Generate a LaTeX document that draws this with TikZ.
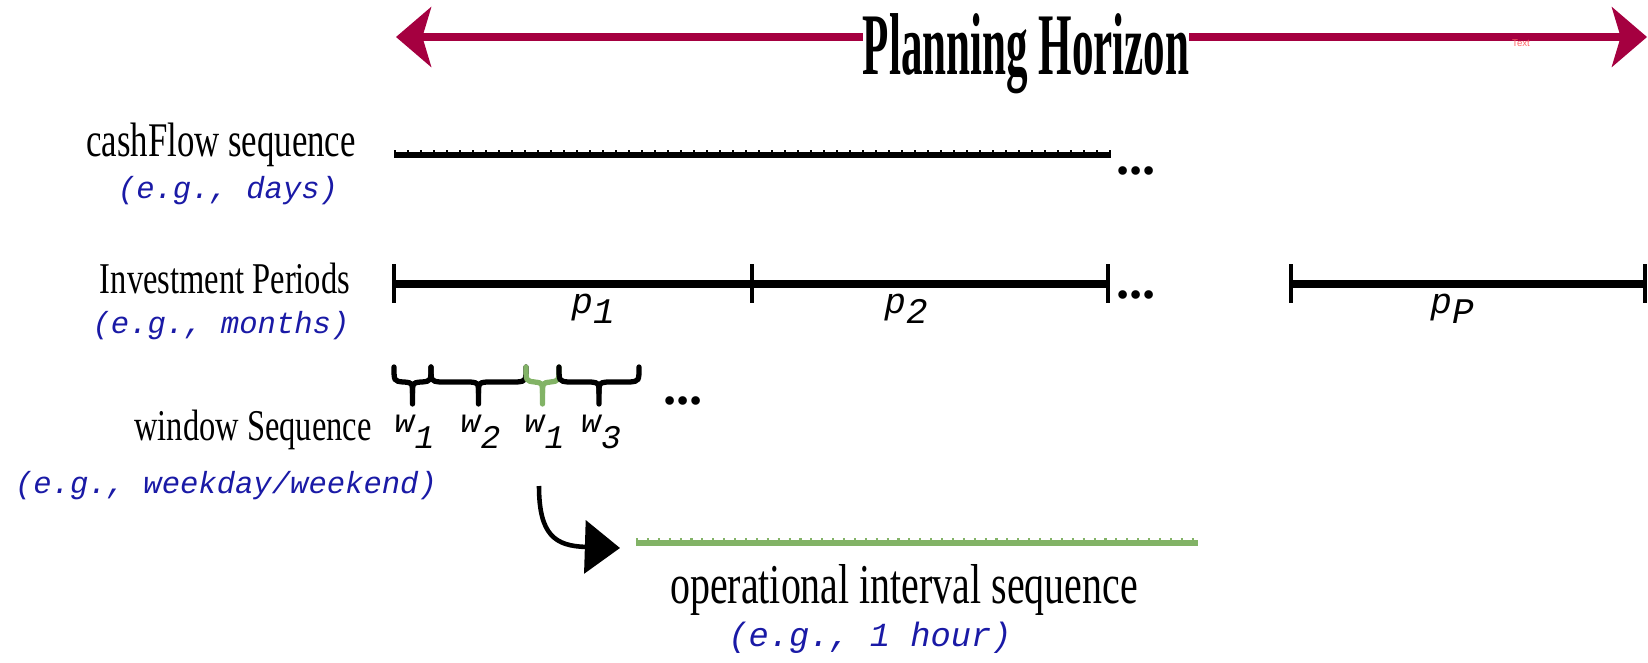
\documentclass[tikz,border=0pt]{standalone}
\usepackage{fontspec}
\setmainfont{Liberation Serif}
\newfontfamily\titlefont[FakeStretch=0.49]{Liberation Serif}
\newfontfamily\lblfont[FakeStretch=0.74]{Liberation Serif}
\newfontfamily\cflblfont[FakeStretch=0.72]{Liberation Serif}
\newfontfamily\oplblfont[FakeStretch=0.71]{Liberation Serif}
\newfontfamily\monofont{Liberation Mono}
\newfontfamily\tinyfont{Liberation Sans}
\usetikzlibrary{positioning, arrows.meta, calc}
\usepackage{xcolor}
\definecolor{hzred}{HTML}{A50040}
\definecolor{wgreen}{HTML}{82B366}
\definecolor{exblue}{RGB}{26,26,166}
\definecolor{txtred}{HTML}{FF6666}
\newcommand{\wsub}[1]{\raisebox{-0.5em}{#1}}
\newcommand{\psub}[1]{\raisebox{-0.3em}{#1}}

\begin{document}
\begin{tikzpicture}[
    x=0.02cm, y=-0.02cm,
    >=Stealth,
    hztitle/.style={fill=white, inner sep=0pt, anchor=base,
                    font=\titlefont\bfseries\fontsize{50}{50}\selectfont},
    hzarrow/.style={draw=hzred, line width=4pt,
                    {Stealth[length=20pt, width=34pt, inset=5pt]}-{Stealth[length=20pt, width=34pt, inset=5pt]}},
    seqlbl/.style={inner sep=0pt, anchor=base,
                   font=\lblfont\fontsize{25}{25}\selectfont},
    oplbl/.style={inner sep=0pt, anchor=base,
                  font=\oplblfont\fontsize{32}{32}\selectfont},
    exlbl/.style={inner sep=0pt, anchor=base, text=exblue,
                  font=\monofont\itshape\fontsize{17.4}{17.4}\selectfont},
    idx/.style={inner sep=0pt, anchor=base,
                font=\monofont\itshape\fontsize{18.8}{18.8}\selectfont},
    pidx/.style={idx, font=\monofont\itshape\fontsize{20.5}{20.5}\selectfont},
    more/.style={inner sep=0pt, anchor=base,
                 font=\bfseries\fontsize{30}{30}\selectfont},
    tlbar/.style={line width=4pt},
    tmark/.style={line width=2.3pt},
    combbar/.style={line width=3.6pt},
    combtick/.style={line width=1.6pt, dash pattern=on 1.2pt off 6.2pt},
    brc/.style={line width=3pt, line cap=round},
]
\useasboundingbox (0,0) rectangle (1648,662);

% planning horizon
\coordinate (hzl) at (396,37);
\coordinate (hzr) at (1647,37);
\draw[hzarrow] (hzl) -- (hzr);
\node[hztitle] (title) at (1026,75) {Planning Horizon};
\node[inner sep=0pt, text=txtred, font=\tinyfont\fontsize{5.5}{5.5}\selectfont] (stray) at (1521,43) {Text};

% cashflow sequence
\node[seqlbl, font=\cflblfont\fontsize{27.5}{27.5}\selectfont] (cflbl) at (221,157) {cashFlow sequence};
\node[exlbl] (cfex) at (228,198) {(e.g., days)};
\coordinate (cfa) at (394,155);
\coordinate (cfb) at (1111,155);
\draw[combbar] (cfa) -- (cfb);
\draw[combtick] ($(cfa)+(0,-4)$) -- ($(cfb)+(0,-4)$);
\node[more] (cfmore) at (1136,174) {...};

% investment periods
\node[seqlbl] (iplbl) at (225,293) {Investment Periods};
\node[exlbl] (ipex) at (221,333) {(e.g., months)};
\coordinate (ip0) at (394,284);
\coordinate (ip1) at (752,284);
\coordinate (ip2) at (1108,284);
\coordinate (ipa) at (1291,284);
\coordinate (ipb) at (1645,284);
\draw[tlbar] (ip0) -- (ip2);
\draw[tlbar] (ipa) -- (ipb);
\foreach \c in {ip0, ip1, ip2, ipa, ipb}
    \draw[tmark] ($(\c)+(0,-20)$) -- ($(\c)+(0,19)$);
\node[more] (ipmore) at (1136,298) {...};
\node[pidx] (p1) at (593,313) {p\psub{1}};
\node[pidx] (p2) at (906,313) {p\psub{2}};
\node[pidx] (pP) at (1452,313) {p\psub{P}};

% window sequence
\node[seqlbl] (wslbl) at (253,440) {window Sequence};
\node[exlbl] (wsex) at (226,493) {(e.g., weekday/weekend)};
\foreach \xa/\xb/\cl/\k/\nm in {394/431/black/1/w1, 431/526/black/2/w2,
                               526/559/wgreen/1/w1b, 559/639/black/3/w3} {
    \pgfmathsetmacro{\xm}{(\xa+\xb)/2}
    \draw[brc, \cl] (\xa,367) .. controls (\xa,381) .. (\xa+9,382)
        -- (\xm-8,382) .. controls (\xm,383) .. (\xm,393) -- (\xm,404);
    \draw[brc, \cl] (\xb,367) .. controls (\xb,381) .. (\xb-9,382)
        -- (\xm+8,382) .. controls (\xm,383) .. (\xm,393);
    \node[idx] (\nm) at (\xm+2,432) {w\wsub{\k}};
}
\node[more] (wsmore) at (683,404) {...};

% operational intervals
\coordinate (arrs) at (539,486);
\coordinate (arre) at (620,548);
\draw[line width=2.6pt, -{Triangle[length=20pt, width=30pt]}] (arrs) .. controls (539,535) and (555,546) .. (arre);
\coordinate (opa) at (636,543);
\coordinate (opb) at (1198,543);
\draw[combbar, wgreen] (opa) -- (opb);
\draw[combtick, wgreen, dash pattern=on 1.2pt off 5pt] ($(opa)+(0,-4)$) -- ($(opb)+(0,-4)$);
\node[oplbl] (oplbl) at (904,603) {operational interval sequence};
\node[exlbl, font=\monofont\itshape\fontsize{19.2}{19.2}\selectfont] (opex) at (870,646) {(e.g., 1 hour)};
\end{tikzpicture}
\end{document}
